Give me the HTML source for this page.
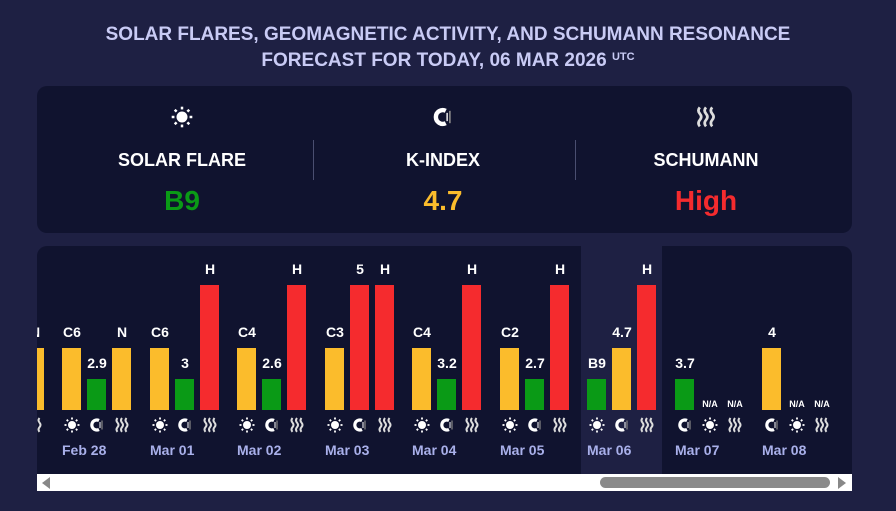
<!DOCTYPE html><html><head><style>
*{margin:0;padding:0;box-sizing:border-box}
body{width:896px;height:511px;background:#1e2043;font-family:"Liberation Sans",sans-serif;position:relative;overflow:hidden;color:#fff}
.t{position:absolute;left:0;width:896px;text-align:center;color:#c9cbf5;font-weight:bold;font-size:19px;line-height:26px;top:22px}
.t sup{font-size:11px;line-height:0;vertical-align:6px}
.card{position:absolute;left:37px;top:86px;width:815px;height:147px;background:#10132f;border-radius:10px}
.a{position:absolute;font-weight:bold;text-align:center;transform:translateX(-50%);white-space:nowrap}
.div{position:absolute;top:54px;width:1px;height:40px;background:#4a4e70}
.panel{position:absolute;left:37px;top:246px;width:815px;height:228px;background:#10132f;border-radius:10px 10px 0 0;overflow:hidden}
.hl{position:absolute;left:544px;top:0;width:81px;height:228px;background:#1e2043}
.b{position:absolute;width:19px}
.l{position:absolute;font-weight:bold;font-size:14px;width:40px;text-align:center;margin-left:-10px}
.na{font-size:9px}
.ic{position:absolute;width:19px;height:19px;top:171px}
.ic svg{display:block;margin:auto}
.d{position:absolute;top:196px;font-weight:bold;font-size:14px;color:#a9b0ea}
.sb{position:absolute;left:37px;top:474px;width:815px;height:17px;background:#fff}
</style></head><body>
<div class="t">SOLAR FLARES, GEOMAGNETIC ACTIVITY, AND SCHUMANN RESONANCE<br>FORECAST FOR TODAY, 06 MAR 2026 <sup>UTC</sup></div>
<div class="card">
<div id="i1" style="position:absolute;left:134px;top:20px"></div>
<div id="i2" style="position:absolute;left:395px;top:20px"></div>
<div id="i3" style="position:absolute;left:658px;top:20px"></div>
<div class="a" style="left:145px;top:64px;font-size:18px">SOLAR FLARE</div>
<div class="a" style="left:406px;top:64px;font-size:18px">K-INDEX</div>
<div class="a" style="left:669px;top:64px;font-size:18px">SCHUMANN</div>
<div class="a" style="left:145px;top:99px;font-size:28px;color:#0a9a16">B9</div>
<div class="a" style="left:406px;top:99px;font-size:28px;color:#fbbc2c">4.7</div>
<div class="a" style="left:669px;top:99px;font-size:28px;color:#f52b2e">High</div>
<div class="div" style="left:276px"></div><div class="div" style="left:538px"></div>
</div>
<div class="panel">
<div class="hl"></div>
<div id="g"></div>
</div>
<div class="sb">
<div style="position:absolute;left:5px;top:3px;border-right:8px solid #888;border-top:6px solid transparent;border-bottom:6px solid transparent"></div>
<div style="position:absolute;left:563px;top:3px;width:230px;height:11px;border-radius:6px;background:#8a8a8a"></div>
<div style="position:absolute;left:801px;top:3px;border-left:8px solid #888;border-top:6px solid transparent;border-bottom:6px solid transparent"></div>
</div>
<script>
function sun(s){var r='';for(var i=0;i<8;i++){var a=i*Math.PI/4;r+='<line x1="'+(8+5.5*Math.cos(a))+'" y1="'+(8+5.5*Math.sin(a))+'" x2="'+(8+7.5*Math.cos(a))+'" y2="'+(8+7.5*Math.sin(a))+'" stroke="#fff" stroke-width="1.8"/>';}
return '<svg width="'+s+'" height="'+s+'" viewBox="0 0 16 16"><circle cx="8" cy="8" r="4" fill="#fff"/>'+r+'</svg>';}
function mag(s){return '<svg width="'+s+'" height="'+s+'" viewBox="0 0 16 16"><path d="M10 3.5 A5 5 0 1 0 10 12.5" fill="none" stroke="#fff" stroke-width="3.2"/><line x1="13" y1="3.5" x2="13" y2="12.5" stroke="#888" stroke-width="1.2"/><line x1="11" y1="5" x2="11" y2="11" stroke="#fff" stroke-width="1"/></svg>';}
function wav(s){var p='';[3.5,8,12.5].forEach(function(x){p+='<path d="M'+x+' 1 q-2 2.3 0 4.6 q2 2.3 0 4.6 q-2 2.3 0 4.6" fill="none" stroke="#ddd" stroke-width="2"/>';});
return '<svg width="'+s+'" height="'+s+'" viewBox="0 0 16 16">'+p+'</svg>';}
document.getElementById('i1').innerHTML=sun(22);
document.getElementById('i2').innerHTML=mag(22);
document.getElementById('i3').innerHTML=wav(22);
var Y='#fbbc2c',G='#0a9a16',R='#f52b2e';
var groups=[
["Feb 28",25,[["C6",62,Y,"s"],["2.9",31,G,"k"],["N",62,Y,"w"]]],
["Mar 01",113,[["C6",62,Y,"s"],["3",31,G,"k"],["H",125,R,"w"]]],
["Mar 02",200,[["C4",62,Y,"s"],["2.6",31,G,"k"],["H",125,R,"w"]]],
["Mar 03",288,[["C3",62,Y,"s"],["5",125,R,"k"],["H",125,R,"w"]]],
["Mar 04",375,[["C4",62,Y,"s"],["3.2",31,G,"k"],["H",125,R,"w"]]],
["Mar 05",463,[["C2",62,Y,"s"],["2.7",31,G,"k"],["H",125,R,"w"]]],
["Mar 06",550,[["B9",31,G,"s"],["4.7",62,Y,"k"],["H",125,R,"w"]]],
["Mar 07",638,[["3.7",31,G,"k"],["N/A",0,0,"s"],["N/A",0,0,"w"]]],
["Mar 08",725,[["4",62,Y,"k"],["N/A",0,0,"s"],["N/A",0,0,"w"]]]];
var ic={s:sun(16),k:mag(16),w:wav(16)};
var h='<div class="b" style="left:-12px;top:102px;height:62px;background:'+Y+'"></div><div class="l" style="left:-12px;top:78px">N</div><div class="ic" style="left:-12px">'+wav(16)+'</div>';
groups.forEach(function(g){
 h+='<div class="d" style="left:'+g[1]+'px">'+g[0]+'</div>';
 g[2].forEach(function(b,i){var x=g[1]+i*25,bot=164;
  if(b[1])h+='<div class="b" style="left:'+x+'px;top:'+(bot-b[1])+'px;height:'+b[1]+'px;background:'+b[2]+'"></div>';
  var na=b[0]=="N/A";
  h+='<div class="l'+(na?' na':'')+'" style="left:'+x+'px;top:'+(na?bot-11:bot-b[1]-24)+'px">'+b[0]+'</div>';
  h+='<div class="ic" style="left:'+x+'px">'+ic[b[3]]+'</div>';
 });
});
document.getElementById('g').innerHTML=h;
</script>
</body></html>
